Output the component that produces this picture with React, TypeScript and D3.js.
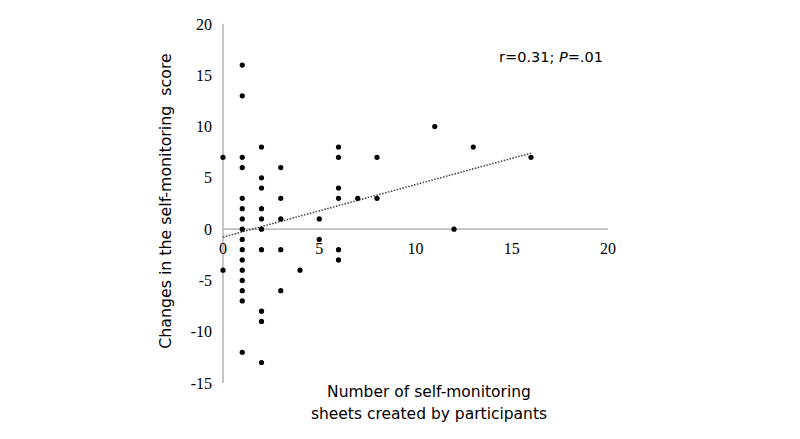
import React from "react";
import * as d3 from "d3";

// x = number of sheets, y = change in score
const xs = [0, 0,
  1, 1, 1, 1, 1, 1, 1, 1, 1, 1, 1, 1, 1, 1, 1, 1,
  2, 2, 2, 2, 2, 2, 2, 2, 2, 2,
  3, 3, 3, 3, 3,
  4,
  5, 5,
  6, 6, 6, 6, 6, 6,
  7,
  8, 8,
  11, 12, 13, 16];
const ys = [7, -4,
  16, 13, 7, 6, 3, 2, 1, 0, -1, -2, -3, -4, -5, -6, -7, -12,
  8, 5, 4, 2, 1, 0, -2, -8, -9, -13,
  6, 3, 1, -2, -6,
  -4,
  1, -1,
  8, 7, 4, 3, -2, -3,
  3,
  7, 3,
  10, 0, 8, 7];
const xTicks = [0, 5, 10, 15, 20];
const yTicks = [20, 15, 10, 5, 0, -5, -10, -15];

export default function App() {
  const x = d3.scaleLinear().domain([0, 20]).range([223, 608]);
  const y = d3.scaleLinear().domain([-15, 20]).range([383, 24]);

  const n = xs.length;
  const mx = d3.mean(xs) as number;
  const my = d3.mean(ys) as number;
  let sxy = 0, sxx = 0;
  for (let i = 0; i < n; i++) {
    sxy += (xs[i] - mx) * (ys[i] - my);
    sxx += (xs[i] - mx) ** 2;
  }
  const slope = sxy / sxx;
  const intercept = my - slope * mx;
  const x0 = 0, x1 = d3.max(xs) as number;
  const line = d3.line<number>().x((d) => x(d)).y((d) => y(intercept + slope * d));

  const sans = "'DejaVu Sans', Verdana, sans-serif";
  const serif = "'Liberation Serif', 'Times New Roman', serif";

  return (
    <svg width={800} height={439} style={{ position: "absolute", left: 0, top: 0, background: "#fff" }}>
      <rect width={800} height={439} fill="#fff" />
      {/* axes */}
      <line x1={x(0)} x2={x(0)} y1={y(20)} y2={y(-15)} stroke="#a6a6a6" strokeWidth={1.3} />
      <line x1={x(0)} x2={x(20)} y1={y(0)} y2={y(0)} stroke="#a6a6a6" strokeWidth={1.3} />
      {yTicks.map((t) => (
        <text key={"y" + t} x={212} y={y(t)} dy="0.35em" textAnchor="end" fontFamily={serif} fontSize={16} fill="#000">
          {t}
        </text>
      ))}
      {xTicks.map((t) => (
        <text key={"x" + t} x={x(t)} y={y(0) + 19} dy="0.35em" textAnchor="middle" fontFamily={serif} fontSize={16} fill="#000">
          {t}
        </text>
      ))}
      {/* trend line */}
      <path d={line([x0, x1]) as string} fill="none" stroke="#404040" strokeWidth={1.5} strokeDasharray="1.5,1.5" />
      {/* points */}
      {xs.map((v, i) => (
        <circle key={i} cx={x(v)} cy={y(ys[i])} r={2.6} fill="#000" />
      ))}
      {/* annotation */}
      <text x={551} y={57} dy="0.35em" textAnchor="middle" fontFamily={sans} fontSize={14.5} fill="#000">
        r=0.31; <tspan fontStyle="italic">P</tspan>=.01
      </text>
      {/* axis titles */}
      <text transform={`translate(165,${201}) rotate(-90)`} textAnchor="middle" dy="0.35em" fontFamily={sans} fontSize={15.8} fill="#000" style={{ whiteSpace: "pre" }}>
        {"Changes in the self-monitoring  score"}
      </text>
      <text x={429} y={392} dy="0.35em" textAnchor="middle" fontFamily={sans} fontSize={15.5} fill="#000">
        Number of self-monitoring
      </text>
      <text x={429} y={414} dy="0.35em" textAnchor="middle" fontFamily={sans} fontSize={15.5} fill="#000">
        sheets created by participants
      </text>
    </svg>
  );
}
